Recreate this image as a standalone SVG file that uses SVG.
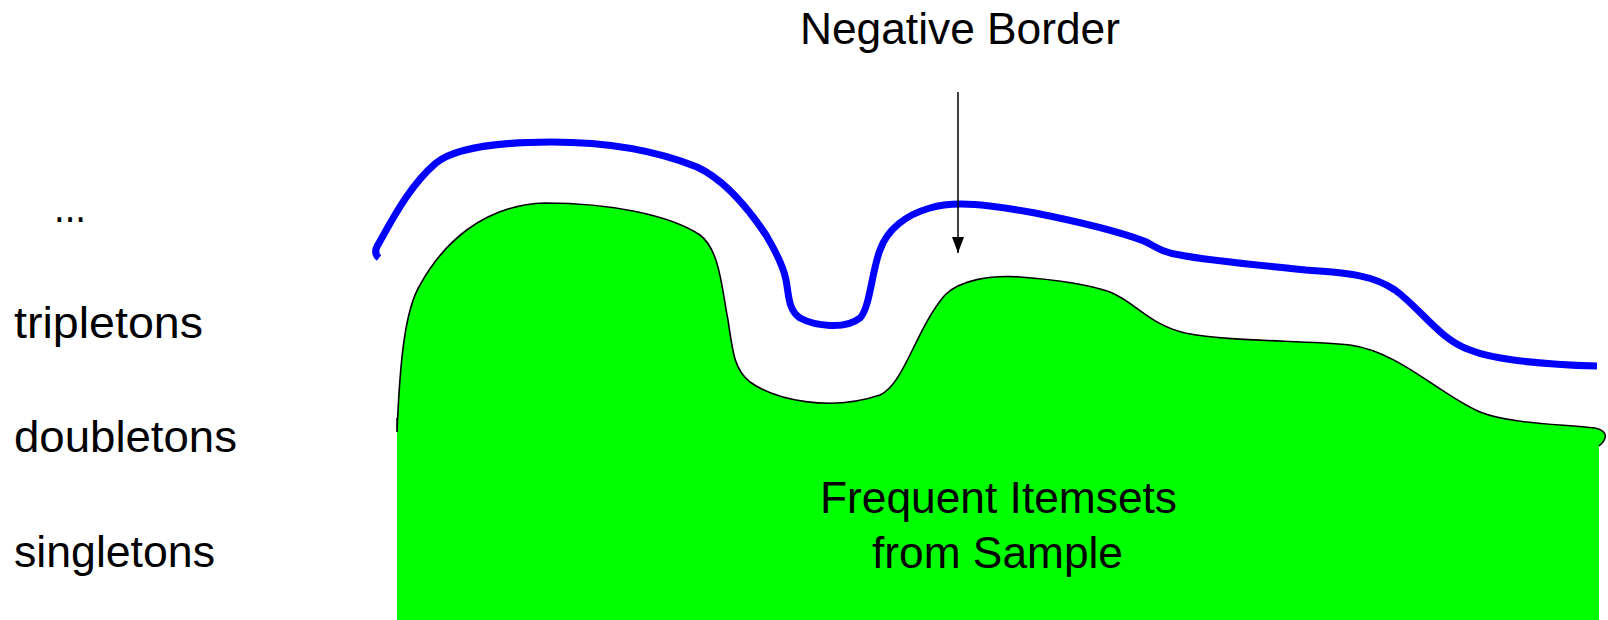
<svg xmlns="http://www.w3.org/2000/svg" width="1608" height="620" viewBox="0 0 1608 620">
<style>
.lbl{font-family:"Liberation Sans",Arial,sans-serif;font-size:44px;fill:#000}
.outline{fill:none;stroke:#000;stroke-width:1.6}
.border{fill:none;stroke:#0000FF;stroke-width:7;stroke-linejoin:round;stroke-linecap:butt}
.conn{stroke:#000;stroke-width:1.5;fill:none}
</style>
<defs>
<marker id="arr" viewBox="0 0 16 12" refX="16" refY="6" markerWidth="16" markerHeight="12" markerUnits="userSpaceOnUse" orient="auto">
<polygon points="0,0 16,6 0,12" fill="#000"/>
</marker>
</defs>
<rect width="1608" height="620" fill="#fff"/>
<g id="frequent-region">
<path d="M 397,432 C 400,360 405,310 420,285 C 442,245 482,205 545,203 C 610,203 670,215 700,235 C 720,250 722,290 728,320 C 733,355 735,370 750,382 C 775,400 830,412 880,395 C 905,383 915,330 945,295 C 960,280 990,275 1020,277 C 1060,280 1090,285 1110,292 C 1135,302 1150,325 1185,333 C 1230,342 1300,340 1350,345 C 1400,352 1440,395 1480,412 C 1510,424 1560,424 1595,428 C 1612,432 1604,442 1599,446 L 1599,620 L 397,620 Z" fill="#00FF00"/>
<path class="outline" d="M 397,432 L 397,418 M 397,432 C 400,360 405,310 420,285 C 442,245 482,205 545,203 C 610,203 670,215 700,235 C 720,250 722,290 728,320 C 733,355 735,370 750,382 C 775,400 830,412 880,395 C 905,383 915,330 945,295 C 960,280 990,275 1020,277 C 1060,280 1090,285 1110,292 C 1135,302 1150,325 1185,333 C 1230,342 1300,340 1350,345 C 1400,352 1440,395 1480,412 C 1510,424 1560,424 1595,428 C 1612,432 1604,442 1599,446"/>
<text class="lbl" x="820" y="513" textLength="357" lengthAdjust="spacingAndGlyphs">Frequent Itemsets</text>
<text class="lbl" x="872" y="568" textLength="251" lengthAdjust="spacingAndGlyphs">from Sample</text>
</g>
<g id="negative-border">
<path class="border" d="M 379,258 C 374,254 375,249 379,243 C 392,220 410,185 436,163 C 455,148 500,142 551,142 C 610,142 660,152 697,167 C 725,180 748,208 766,235 C 775,250 783,265 786,280 C 789,295 788,310 800,318 C 815,326 845,330 860,318 C 870,308 872,270 880,250 C 887,230 905,215 930,208 C 955,200 990,205 1035,213 C 1080,222 1120,232 1144,241 C 1155,246 1160,252 1180,255 C 1210,261 1270,266 1306,270 C 1340,273 1370,273 1395,290 C 1420,308 1440,340 1470,350 C 1500,362 1560,365 1597,366"/>
</g>
<g id="label-negative-border">
<text class="lbl" x="800" y="44" textLength="320" lengthAdjust="spacingAndGlyphs">Negative Border</text>
</g>
<g id="level-labels">
<text class="lbl" x="54" y="222" textLength="32" lengthAdjust="spacingAndGlyphs">...</text>
<text class="lbl" x="14" y="338" textLength="189" lengthAdjust="spacingAndGlyphs">tripletons</text>
<text class="lbl" x="14" y="452" textLength="223" lengthAdjust="spacingAndGlyphs">doubletons</text>
<text class="lbl" x="14" y="567" textLength="201" lengthAdjust="spacingAndGlyphs">singletons</text>
</g>
<g id="connectors">
<line class="conn" x1="958" y1="92" x2="958" y2="253" marker-end="url(#arr)"/>
</g>
</svg>
